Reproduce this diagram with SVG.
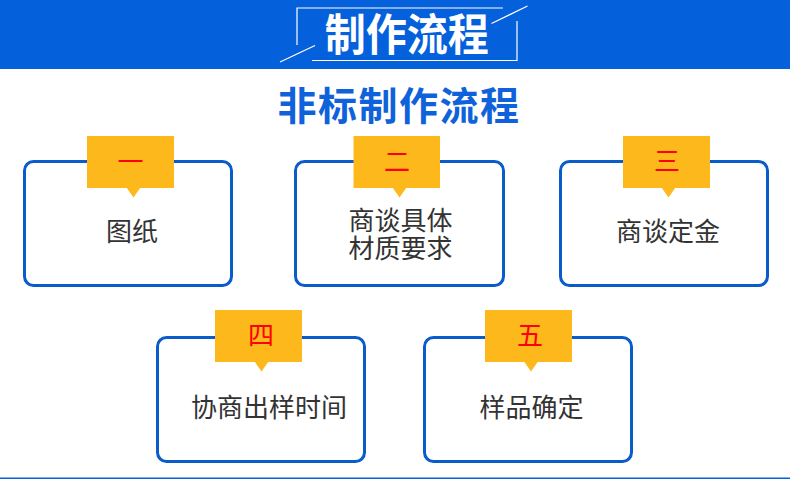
<svg xmlns="http://www.w3.org/2000/svg" width="790" height="479" viewBox="0 0 790 479">
<style>
.box{fill:#fff;stroke:#0A5CCA;stroke-width:3}
.tab{fill:#FDB91B}
.num{font-family:"Noto Sans CJK SC","Noto Sans",sans-serif;font-size:26px;fill:#F00;text-anchor:middle}
.lbl{font-family:"Noto Sans CJK SC","Noto Sans",sans-serif;font-size:26px;fill:#333;text-anchor:middle}
.deco{stroke:#fff;stroke-width:1.2;fill:none}
</style>
<rect x="0" y="0" width="790" height="69" fill="#0560DC"/>
<g id="header">
<path class="deco" d="M297 45 V8 H503"/>
<path class="deco" d="M517 21 V60.5 H312"/>
<line class="deco" x1="280" y1="62" x2="315" y2="45.5"/>
<line class="deco" x1="491.5" y1="23.5" x2="527.5" y2="6"/>
<text x="406.7" y="51" font-family="Noto Sans CJK SC,sans-serif" font-weight="bold" font-size="44" fill="#fff" text-anchor="middle" textLength="164" lengthAdjust="spacingAndGlyphs">制作流程</text>
</g>
<text id="title" x="399" y="120" font-family="Noto Sans CJK SC,sans-serif" font-weight="bold" font-size="39" letter-spacing="1.5" fill="#0F62DA" text-anchor="middle">非标制作流程</text>
<rect x="0" y="477.5" width="790" height="1.5" fill="#0560DC"/>
<g id="n1">
<rect class="box" x="24.5" y="161.5" width="207" height="124" rx="9"/>
<rect class="tab" x="87" y="136" width="87" height="52"/>
<path class="tab" d="M126.5 187.5 L133.5 197.5 L140.5 187.5Z"/>
<text class="num" x="130.5" y="171">一</text>
<text class="lbl" x="132" y="241">图纸</text>
</g>
<g id="n2">
<rect class="box" x="295.5" y="161.5" width="208" height="124" rx="9"/>
<rect class="tab" x="353.5" y="136" width="86.5" height="52"/>
<path class="tab" d="M392.5 187.5 L399.5 197.5 L406.5 187.5Z"/>
<text class="num" x="397" y="171">二</text>
<text class="lbl" x="400.5" y="229.5">商谈具体<tspan x="400.5" y="258">材质要求</tspan></text>
</g>
<g id="n3">
<rect class="box" x="560.5" y="161.5" width="207" height="124" rx="9"/>
<rect class="tab" x="623" y="136" width="87" height="52"/>
<path class="tab" d="M661.5 187.5 L668.5 197.5 L675.5 187.5Z"/>
<text class="num" x="667" y="171">三</text>
<text class="lbl" x="668" y="241">商谈定金</text>
</g>
<g id="n4">
<rect class="box" x="157.5" y="337.5" width="207" height="124" rx="9"/>
<rect class="tab" x="215" y="310" width="87" height="52"/>
<path class="tab" d="M254.5 361.5 L261.5 371.5 L268.5 361.5Z"/>
<text class="num" x="261" y="345">四</text>
<text class="lbl" x="269" y="417">协商出样时间</text>
</g>
<g id="n5">
<rect class="box" x="424.5" y="337.5" width="207" height="124" rx="9"/>
<rect class="tab" x="485" y="310" width="87" height="52"/>
<path class="tab" d="M524 361.5 L531 371.5 L538 361.5Z"/>
<text class="num" x="530" y="345">五</text>
<text class="lbl" x="531.5" y="417">样品确定</text>
</g>
</svg>
